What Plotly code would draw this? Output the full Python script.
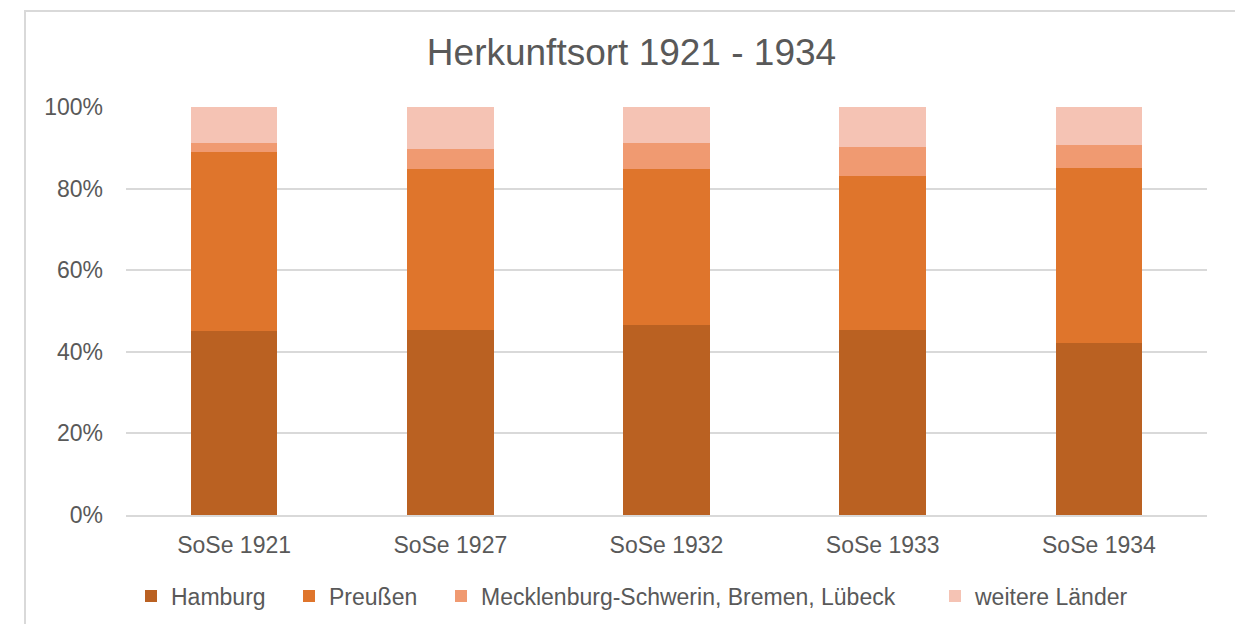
import plotly.graph_objects as go

categories = ["SoSe 1921", "SoSe 1927", "SoSe 1932", "SoSe 1933", "SoSe 1934"]
hamburg = [45.0, 45.3, 46.5, 45.3, 42.1]
preussen = [43.9, 39.4, 38.2, 37.8, 42.9]
meckl = [2.2, 5.0, 6.4, 7.2, 5.7]
weitere = [8.9, 10.3, 8.9, 9.7, 9.3]

series_names = ["Hamburg", "Preußen", "Mecklenburg-Schwerin, Bremen, Lübeck", "weitere Länder"]
series_values = [hamburg, preussen, meckl, weitere]
colors = ["#BA6122", "#DF752C", "#F09A71", "#F5C3B4"]

y_ticks = [0, 20, 40, 60, 80, 100]
y_ticktext = ["0%", "20%", "40%", "60%", "80%", "100%"]

FONT = "Liberation Sans, Arial, sans-serif"
TXT = "#595959"

# page offset of the figure inside the browser (default body margin)
OFF = 8
W, H = 1243 - OFF, 624 - OFF

legend_ids = ["legend", "legend2", "legend3", "legend4"]
legend_left_px = [131, 289, 441, 935]  # screen px of each legend entry's left edge

fig = go.Figure()
for name, vals, col, lid in zip(series_names, series_values, colors, legend_ids):
    fig.add_trace(go.Bar(x=categories, y=vals, name=name, legend=lid,
                         marker=dict(color=col, line=dict(width=0))))

legend_common = dict(orientation="h", xref="container", yref="container",
                     xanchor="left", y=1 - (596 - OFF) / H, yanchor="middle",
                     font=dict(family=FONT, size=23, color=TXT),
                     itemwidth=30, bgcolor="rgba(0,0,0,0)", borderwidth=0)

layout_legends = {}
for lid, lx in zip(legend_ids, legend_left_px):
    layout_legends[lid] = dict(x=(lx - OFF) / W, **legend_common)

fig.update_layout(
    width=W, height=H,
    barmode="stack", bargap=0.6,
    paper_bgcolor="white", plot_bgcolor="white",
    margin=dict(l=126 - OFF, r=36, t=107 - OFF, b=109, autoexpand=False),
    font=dict(family=FONT, size=23, color=TXT),
    title=dict(text="Herkunftsort 1921 - 1934", x=(631.5 - OFF) / W, xref="container",
               xanchor="center", y=1 - (52 - OFF) / H, yref="container", yanchor="middle",
               font=dict(family=FONT, size=37, color=TXT)),
    showlegend=True,
    **layout_legends,
)
fig.update_xaxes(showgrid=False, showline=True, linecolor="#D9D9D9", linewidth=2,
                 ticks="", ticklabelstandoff=8, tickfont=dict(size=23, color=TXT))
fig.update_yaxes(range=[0, 100], tickvals=y_ticks, ticktext=y_ticktext,
                 showgrid=True, gridcolor="#D9D9D9", gridwidth=2, zeroline=False,
                 showline=False, ticks="", ticklabelstandoff=22,
                 tickfont=dict(size=23, color=TXT))

# outer chart border
fig.add_shape(type="rect", xref="paper", yref="paper",
              x0=(25 - 126) / 1081, x1=(1236 - 126) / 1081,
              y0=(515 - 640) / 408, y1=(515 - 11) / 408,
              line=dict(color="#D9D9D9", width=2), fillcolor="rgba(0,0,0,0)", layer="below")

fig.write_html("out.html")
